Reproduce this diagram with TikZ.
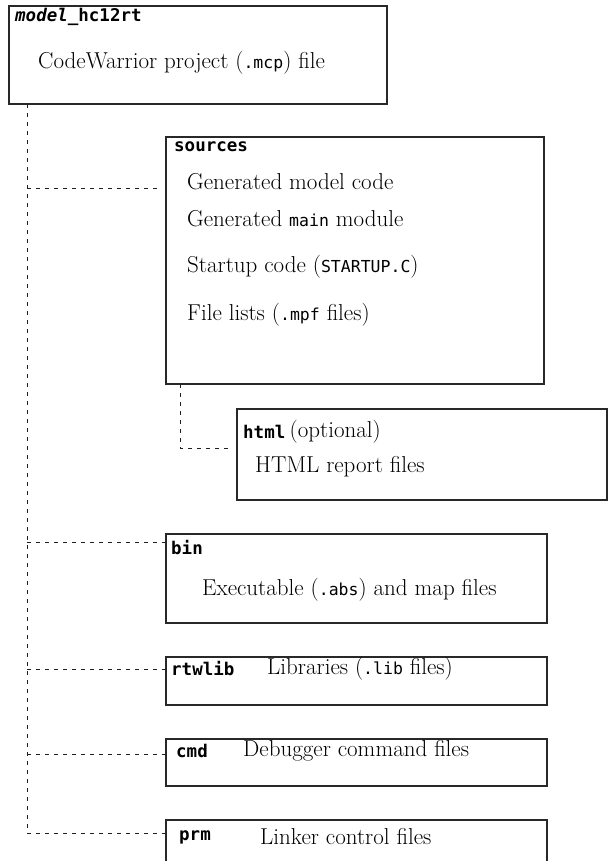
\documentclass[tikz,border=0pt]{standalone}
\usepackage{fontspec}
\setmonofont{DejaVu Sans Mono}
\usepackage{xcolor}
\usepackage{tikz}
\usetikzlibrary{positioning}
\definecolor{Edge}{RGB}{40,40,40}
\definecolor{Dots}{RGB}{30,30,30}
\newcommand{\bodyfont}{\fontsize{23}{27}\selectfont}
\newcommand{\codefont}{\fontsize{16.5}{19}\selectfont\ttfamily}
\newcommand{\dirfont}{\fontsize{17.5}{20}\selectfont\ttfamily\bfseries}
\newcommand{\code}[1]{{\codefont #1}}
\tikzset{
  folder/.style={draw=Edge,line width=1.2pt,anchor=north west,inner sep=0pt,outer sep=0pt},
  dirlabel/.style={anchor=west,inner sep=0pt,font=\dirfont},
  entry/.style={anchor=west,inner sep=0pt,font=\bodyfont},
  tree/.style={draw=Dots,line width=1pt,dash pattern=on 4pt off 5pt}
}

\begin{document}
\begin{tikzpicture}[x=1pt,y=-1pt]
\useasboundingbox (0,0) rectangle (608,861);
\clip (0,0) rectangle (608,861);
% folders
\node[folder,minimum width=378pt,minimum height=98pt] (root) at (9,6) {};
\node[folder,minimum width=378pt,minimum height=247pt] (src) at (166,137) {};
\node[folder,minimum width=370pt,minimum height=91pt] (html) at (237,409) {};
\node[folder,minimum width=381pt,minimum height=89pt] (bin) at (166,534) {};
\node[folder,minimum width=381pt,minimum height=48pt] (lib) at (166,657) {};
\node[folder,minimum width=381pt,minimum height=47pt] (cmd) at (166,739) {};
\node[folder,minimum width=381pt,minimum height=60pt] (prm) at (166,820) {};
% labels and contents
\node[dirlabel] (rootlbl) at (15,17) {\textit{model}\_hc12rt};
\node[entry] (rootmcp) at (38,63) {CodeWarrior project (\code{.mcp}) file};
\node[dirlabel] (srclbl) at (174,147) {sources};
\node[entry] (srcmodel) at (187,182) {Generated model code};
\node[entry] (srcmain) at (187,219) {Generated \code{main} module};
\node[entry] (srcstart) at (187,267) {Startup code (\code{STARTUP.C})};
\node[entry] (srclists) at (187,315) {File lists (\code{.mpf} files)};
\node[dirlabel] (htmllbl) at (243,432) {html};
\node[entry,right=4pt of htmllbl] (htmlopt) {(optional)};
\node[entry] (htmlrep) at (255,467) {HTML report files};
\node[dirlabel] (binlbl) at (171,548) {bin};
\node[entry] (binexe) at (202,590) {Executable (\code{.abs}) and map files};
\node[dirlabel] (liblbl) at (171,669) {rtwlib};
\node[entry] (libfiles) at (267,669) {Libraries (\code{.lib} files)};
\node[dirlabel] (cmdlbl) at (176,751) {cmd};
\node[entry] (cmdfiles) at (243,751) {Debugger command files};
\node[dirlabel] (prmlbl) at (179,837) {prm};
\node[entry] (prmfiles) at (260,837) {Linker control files};
% dotted tree
\coordinate (trunk) at (27,104);
\coordinate (srcjoin) at (27,188);
\coordinate (binjoin) at (27,542);
\coordinate (libjoin) at (27,669);
\coordinate (cmdjoin) at (27,754);
\coordinate (prmjoin) at (27,833);
\coordinate (htmltop) at (180,384);
\coordinate (htmljoin) at (180,448);
\draw[tree] (trunk) -- (prmjoin) -- (prm.west |- prmjoin);
\draw[tree,shorten >=9pt] (srcjoin) -- (src.west |- srcjoin);
\draw[tree] (binjoin) -- (bin.west |- binjoin);
\draw[tree] (libjoin) -- (lib.west |- libjoin);
\draw[tree] (cmdjoin) -- (cmd.west |- cmdjoin);
\draw[tree,shorten >=7pt] (htmltop) -- (htmljoin) -- (html.west |- htmljoin);
\end{tikzpicture}
\end{document}
